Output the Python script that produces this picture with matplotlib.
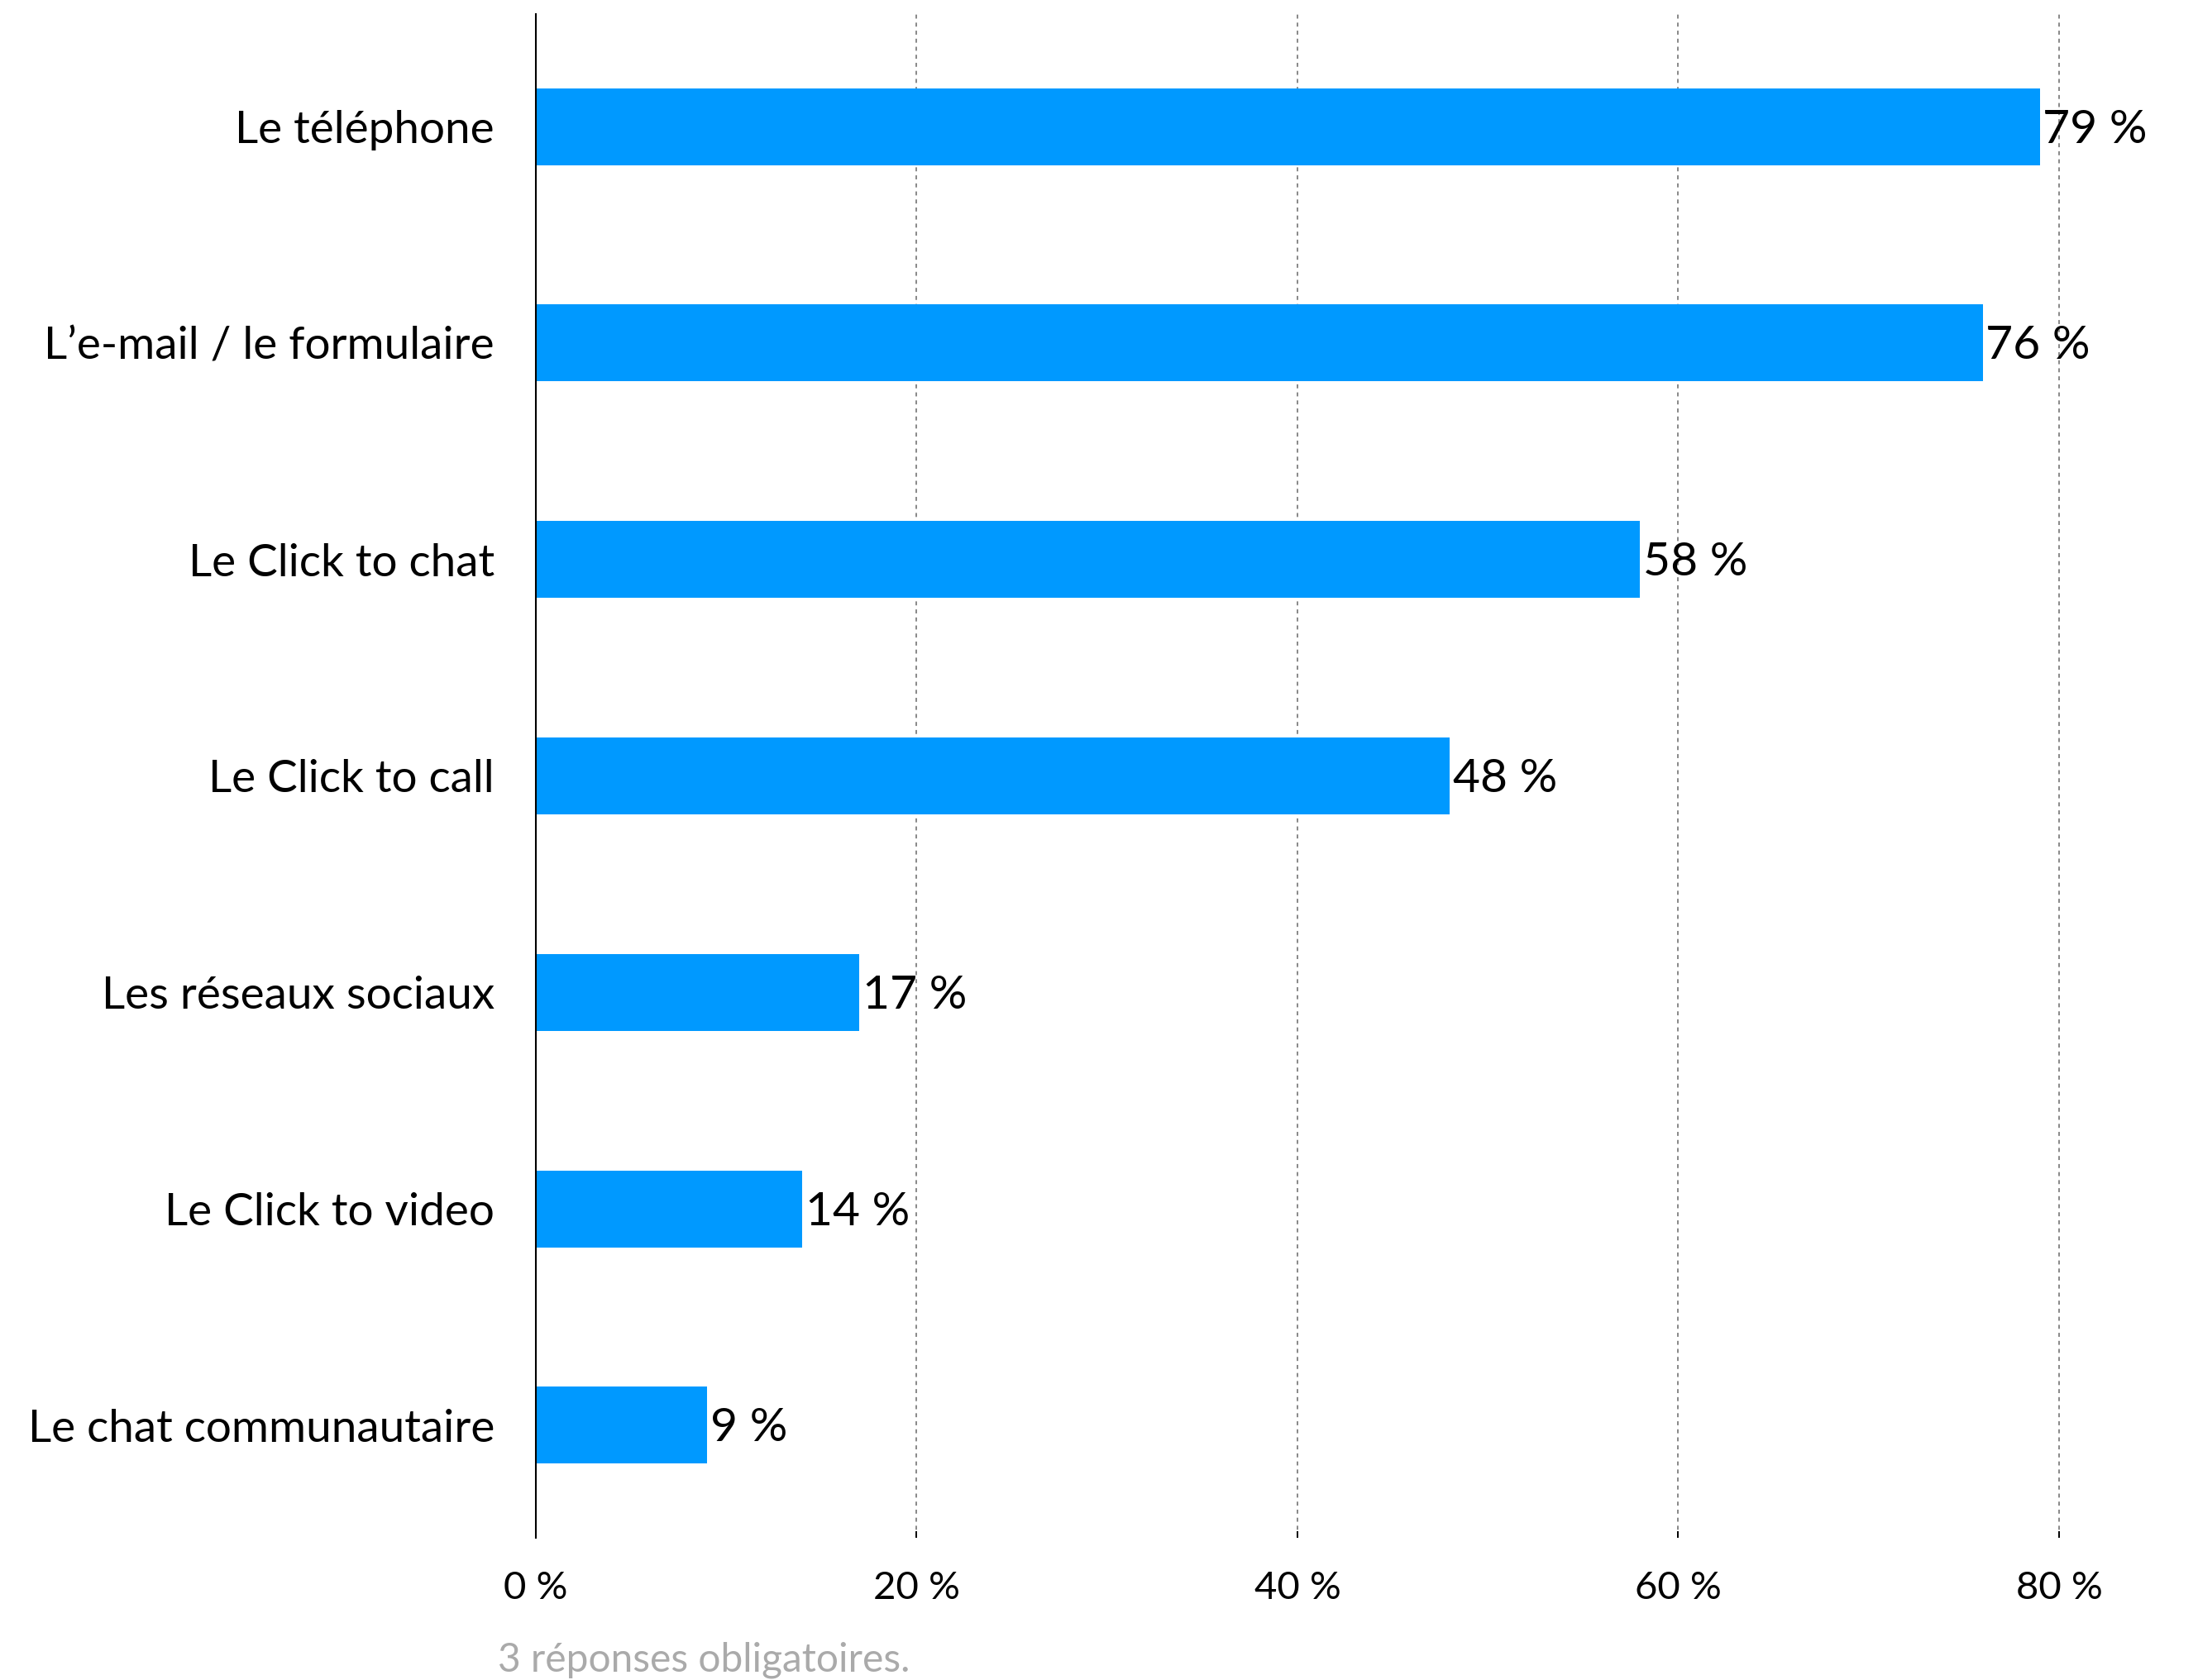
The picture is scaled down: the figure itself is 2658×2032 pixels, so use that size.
import matplotlib
matplotlib.use("Agg")
import matplotlib.pyplot as plt
from matplotlib.ticker import FixedLocator, FuncFormatter

# Survey results: preferred contact channels (share of respondents, %)
categories = [
    "Le téléphone",
    "L\u2019e-mail / le formulaire",
    "Le Click to chat",
    "Le Click to call",
    "Les réseaux sociaux",
    "Le Click to video",
    "Le chat communautaire",
]
values = [79, 76, 58, 48, 17, 14, 9]
x_ticks = [0, 20, 40, 60, 80]
footnote = "3 réponses obligatoires."

plt.rcParams["font.family"] = ["Lato", "DejaVu Sans"]

W, H, DPI = 2658, 2032, 100
fig = plt.figure(figsize=(W / DPI, H / DPI), dpi=DPI)
ax = fig.add_axes([648 / W, 172 / H, 1888 / W, 1843 / H])

bar_color = "#0099ff"
ypos = list(range(len(categories)))
ax.barh(ypos, values, height=0.355, color=bar_color, zorder=3)

for y, v in zip(ypos, values):
    ax.text(v + 0.15, y + 0.015, f"{v} %", va="center", ha="left",
            fontsize=41, color="black", zorder=4)

ax.set_ylim(len(categories) - 0.48, -0.52)
ax.set_xlim(0, 82)

ax.set_yticks(ypos)
ax.set_yticklabels(categories, fontsize=39.5)
ax.tick_params(axis="y", length=0, pad=36)

ax.xaxis.set_major_locator(FixedLocator(x_ticks))
ax.xaxis.set_major_formatter(FuncFormatter(lambda v, p: f"{int(v)} %"))
ax.tick_params(axis="x", direction="in", length=6, width=1.4,
               color="black", labelsize=34, pad=29)

ax.grid(axis="x", color="#888888", linestyle=(0, (2.5, 2.5)),
        linewidth=1.4, zorder=1)
ax.grid(axis="y", visible=False)

for side in ("top", "right", "bottom"):
    ax.spines[side].set_visible(False)
ax.spines["left"].set_linewidth(1.5)
ax.spines["left"].set_color("black")
ax.spines["left"].set_zorder(5)

fig.text(602 / W, (H - 2008) / H, footnote, ha="left", va="center",
         fontsize=34.5, color="#aaaaaa")

fig.savefig("out.png", dpi=DPI)
